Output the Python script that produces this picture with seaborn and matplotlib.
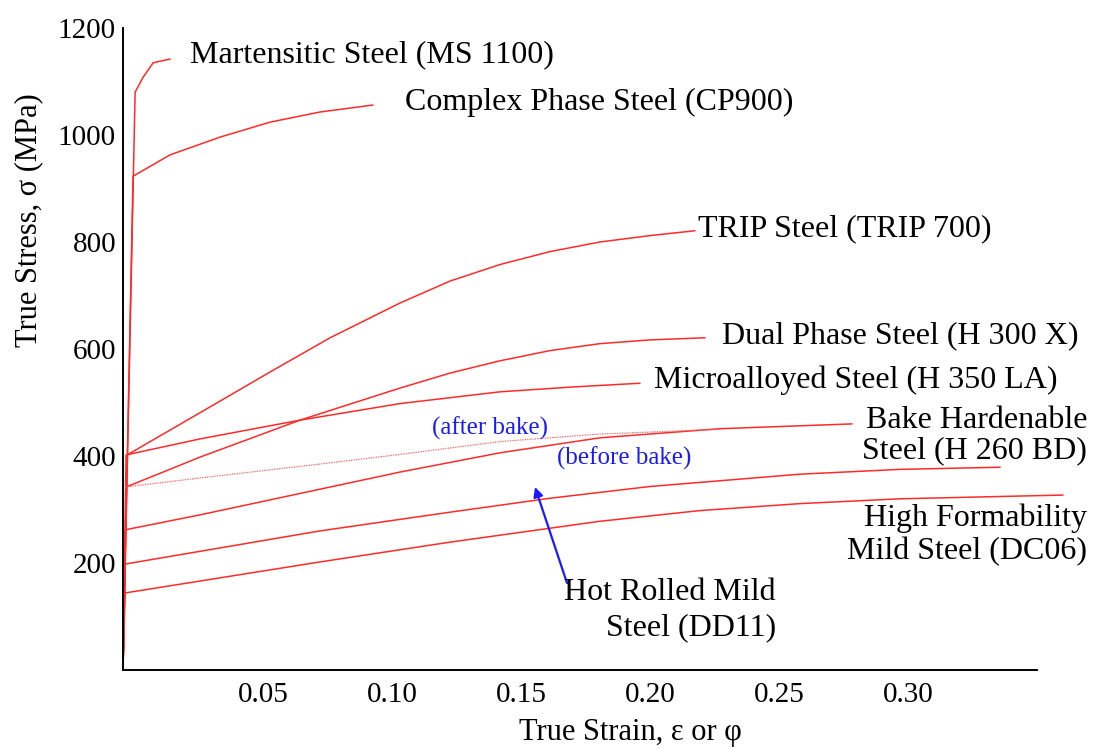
import matplotlib
matplotlib.use("Agg")
import matplotlib.pyplot as plt
import seaborn as sns

# --- datos (deformacion verdadera, tension verdadera MPa) ---
ms_strain = [-0.0043, 0.0004, 0.0035, 0.0074, 0.0140]
ms_stress = [0, 1080, 1108, 1135, 1142]

cp_strain = [-0.0043, -0.0004, 0.0140, 0.0333, 0.0527, 0.0721, 0.0926]
cp_stress = [0, 923, 963, 996, 1024, 1043, 1056]

trip_strain = [-0.0043, -0.0027, 0.0256, 0.0527, 0.0760, 0.1031, 0.1225, 0.1419, 0.1612, 0.1806, 0.2000, 0.2174]
trip_stress = [0, 402, 481, 557, 621, 686, 727, 758, 782, 800, 812, 821]

dp_strain = [-0.0043, -0.0031, 0.0256, 0.0643, 0.1031, 0.1225, 0.1419, 0.1612, 0.1806, 0.2000, 0.2213]
dp_stress = [0, 342, 398, 467, 527, 555, 578, 597, 610, 617, 621]

ma_strain = [-0.0043, -0.0031, 0.0256, 0.0643, 0.1031, 0.1419, 0.1700, 0.1961]
ma_stress = [0, 402, 432, 467, 498, 520, 529, 536]

bh_after_strain = [-0.0035, 0.0256, 0.0721, 0.1031, 0.1419, 0.1806, 0.2271]
bh_after_stress = [342, 359, 385, 403, 427, 441, 450]

bh_strain = [-0.0043, -0.0035, 0.0256, 0.0721, 0.1031, 0.1419, 0.1806, 0.2271, 0.2783]
bh_stress = [0, 262, 290, 338, 370, 406, 434, 451, 460]

dd11_strain = [-0.0043, -0.0035, 0.0721, 0.1225, 0.1612, 0.2000, 0.2581, 0.2969, 0.3357]
dd11_stress = [0, 198, 260, 295, 321, 343, 366, 375, 379]

dc06_strain = [-0.0043, -0.0035, 0.0721, 0.1225, 0.1806, 0.2194, 0.2581, 0.2969, 0.3601]
dc06_stress = [0, 144, 202, 239, 278, 298, 311, 320, 327]

solid_curves = [
    (ms_strain, ms_stress), (cp_strain, cp_stress), (trip_strain, trip_stress),
    (dp_strain, dp_stress), (ma_strain, ma_stress), (bh_strain, bh_stress),
    (dd11_strain, dd11_stress), (dc06_strain, dc06_stress),
]

x_ticks = [0.05, 0.10, 0.15, 0.20, 0.25, 0.30, 0.35]
x_tick_labels = ["0.05", "0.10", "0.15", "0.20", "0.25", "0.30", ""]
y_major = [200, 400, 600, 800, 1000, 1200]
y_minor = [100, 300, 500, 700, 900, 1100]

# --- estilo ---
sns.set_style("white")
plt.rcParams["font.family"] = ["Liberation Serif", "DejaVu Serif"]

W, H = 1099, 749
fig = plt.figure(figsize=(W / 100, H / 100), dpi=100)
ax = fig.add_axes([123 / W, 1 - 670 / H, (1037 - 123) / W, (670 - 28) / H])


def px(x, y):
    return x / W, 1 - y / H


for xs, ys in solid_curves:
    sns.lineplot(x=xs, y=ys, ax=ax, color="#ff2a2a", linewidth=1.1,
                 sort=False, estimator=None, clip_on=False)

sns.lineplot(x=bh_after_strain, y=bh_after_stress, ax=ax, color="#ff6060",
             linewidth=0.9, linestyle=(0, (1, 1)), sort=False, estimator=None)

ax.set_xlim(-0.0043, 0.350)
ax.set_ylim(0, 1200)
sns.despine(ax=ax)
for s in ["left", "bottom"]:
    ax.spines[s].set_linewidth(1.4)
    ax.spines[s].set_color("black")

ax.set_xticks(x_ticks)
ax.set_xticklabels(x_tick_labels)
ax.set_yticks(y_major)
ax.set_yticks(y_minor, minor=True)
ax.tick_params(axis="both", which="both", direction="in", length=8, width=1.3,
               color="black", labelsize=21, labelcolor="black")
ax.tick_params(axis="x", pad=9)
ax.tick_params(axis="y", pad=5)

ax.set_xlabel("True Strain, ε or φ", fontsize=22, ha="center", va="center", color="black")
ax.set_ylabel("True Stress, σ (MPa)", fontsize=22, ha="center", va="center", color="black")
ax.xaxis.set_label_coords(0.555, -0.097)
ax.yaxis.set_label_coords(-0.103, 0.70)

# --- etiquetas de las curvas ---
lab = dict(fontsize=23, color="black", va="center")
fig.text(*px(190, 55), "Martensitic Steel (MS 1100)", ha="left", **lab)
fig.text(*px(405, 102), "Complex Phase Steel (CP900)", ha="left", **lab)
fig.text(*px(698, 229), "TRIP Steel (TRIP 700)", ha="left", **lab)
fig.text(*px(1078, 336), "Dual Phase Steel (H 300 X)", ha="right", **lab)
fig.text(*px(1058, 380), "Microalloyed Steel (H 350 LA)", ha="right", **lab)
fig.text(*px(1087, 421), "Bake Hardenable", ha="right", **lab)
fig.text(*px(1087, 451), "Steel (H 260 BD)", ha="right", **lab)
fig.text(*px(1087, 518), "High Formability", ha="right", **lab)
fig.text(*px(1087, 552), "Mild Steel (DC06)", ha="right", **lab)
fig.text(*px(776, 592), "Hot Rolled Mild", ha="right", **lab)
fig.text(*px(776, 628), "Steel (DD11)", ha="right", **lab)

blue = dict(fontsize=18, color="#1a1aff", va="center", ha="left")
fig.text(*px(432, 428), "(after bake)", **blue)
fig.text(*px(557, 458), "(before bake)", **blue)

ax.annotate("", xy=px(535, 487), xytext=px(567, 583),
            xycoords="figure fraction", textcoords="figure fraction",
            arrowprops=dict(arrowstyle="-|>", color="#1a1aff", lw=1.6,
                            mutation_scale=14, shrinkA=0, shrinkB=0))

fig.savefig("out.png", dpi=100)
